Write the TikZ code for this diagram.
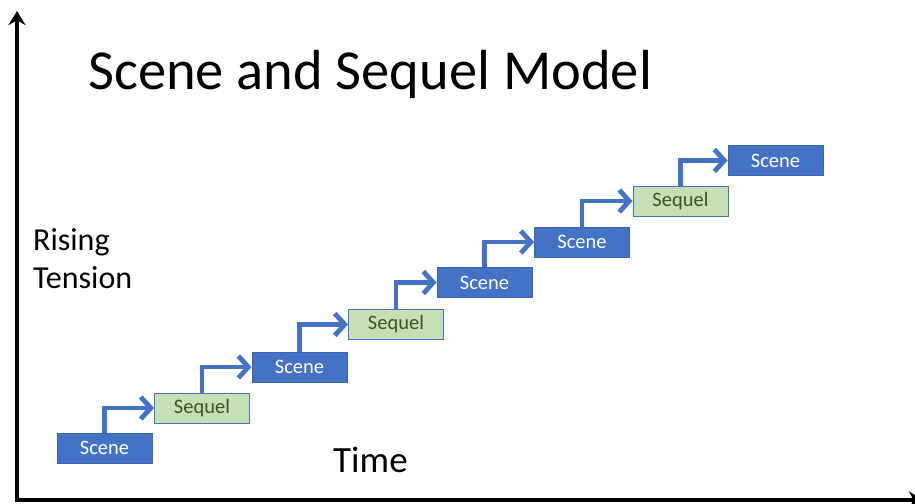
\documentclass[tikz,border=0pt]{standalone}
\usepackage{fontspec}
\setmainfont{Carlito}
\usetikzlibrary{arrows.meta}
\definecolor{sceneblue}{HTML}{4472C4}
\definecolor{sceneedge}{HTML}{3A64B0}
\definecolor{seqfill}{HTML}{C5E0B4}
\definecolor{seqtext}{HTML}{375623}
\tikzset{
  box/.style={minimum width=95pt, minimum height=30pt, inner sep=0pt, font=\fontsize{20.5}{22}\selectfont},
  scenebox/.style={box, fill=sceneblue, draw=sceneedge, line width=0.8pt, text=white},
  seqbox/.style={box, fill=seqfill, draw=sceneblue, line width=1pt, text=seqtext},
  conn/.style={draw=sceneblue, line width=4.8pt, -{Straight Barb[length=10pt,width=22pt]}},
  axis/.style={draw=black, line width=3.5pt, -{Stealth[length=14pt,width=17pt]}},
  lbl/.style={anchor=base west, inner sep=0pt, text=black}
}
\begin{document}
\begin{tikzpicture}[x=1pt,y=-1pt]
\clip (0,0) rectangle (915,503);
\fill[white] (0,0) rectangle (915,503);
% axes
\coordinate (origin) at (17,500);
\coordinate (ytop) at (17,11);
\coordinate (xend) at (923,500);
\draw[axis] (origin) -- (ytop);
\draw[axis] ([xshift=-1.75pt]origin) -- (xend);
% texts
\node[lbl, font=\fontsize{56.5}{60}\selectfont] (title) at (88,89) {Scene and Sequel Model};
\node[lbl, font=\fontsize{32}{38}\selectfont, align=left] (rising) at (33,288) {Rising\\Tension};
\node[lbl, font=\fontsize{37}{40}\selectfont] (time) at (333,472) {Time};
% boxes
\node[scenebox] (b1) at (104.5,448) {Scene};
\node[seqbox]   (b2) at (202,408) {Sequel};
\node[scenebox] (b3) at (299.5,367) {Scene};
\node[seqbox]   (b4) at (396,324.5) {Sequel};
\node[scenebox] (b5) at (484.5,282.5) {Scene};
\node[scenebox] (b6) at (582,242) {Scene};
\node[seqbox]   (b7) at (680.5,201) {Sequel};
\node[scenebox] (b8) at (775.5,160.5) {Scene};
% connectors
\foreach \a/\b in {b1/b2,b2/b3,b3/b4,b4/b5,b5/b6,b6/b7,b7/b8}{
  \draw[conn] (\a.north) |- (\b.west);
}
\end{tikzpicture}
\end{document}
